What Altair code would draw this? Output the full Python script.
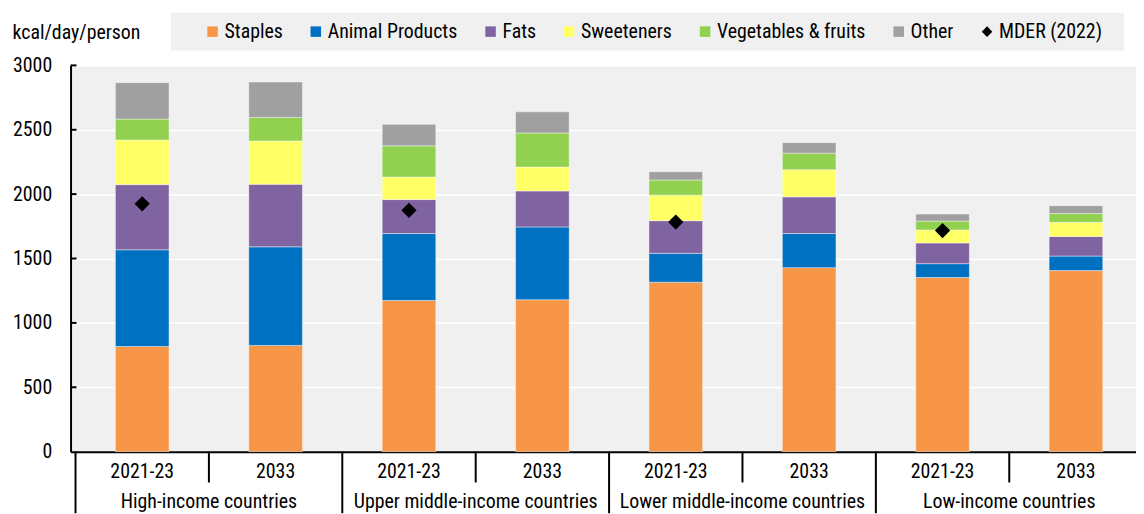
import glob
import os
import subprocess

import altair as alt
import pandas as pd

# ---- data ----
categories = ["Staples", "Animal Products", "Fats", "Sweeteners", "Vegetables & fruits", "Other"]
colors = ["#F79646", "#0070C0", "#8064A2", "#FFFF66", "#92D050", "#A0A0A0"]
periods = ["2021-23", "2033", "2021-23", "2033", "2021-23", "2033", "2021-23", "2033"]
groups = ["High-income countries", "Upper middle-income countries",
          "Lower middle-income countries", "Low-income countries"]
staples = [817, 825, 1174, 1180, 1316, 1429, 1352, 1406]
animal = [751, 766, 520, 565, 224, 265, 108, 113]
fats = [506, 486, 264, 280, 254, 285, 161, 152]
sweeteners = [347, 336, 175, 185, 198, 211, 101, 110]
vegfruit = [162, 183, 242, 265, 118, 128, 69, 69]
other = [283, 275, 167, 164, 64, 82, 54, 60]
mder = [1925, 1874, 1783, 1717]
mder_label = "MDER (2022)"
y_ticks = [0, 500, 1000, 1500, 2000, 2500, 3000]

# ---- pick a condensed font if the system has one ----
def installed_families():
    txt = ""
    try:
        txt = subprocess.run(["fc-list", ":", "family"], capture_output=True,
                             text=True, timeout=20).stdout
    except Exception:
        pass
    files = []
    for d in ["/usr/share/fonts", "/usr/local/share/fonts", os.path.expanduser("~/.fonts"),
              os.path.expanduser("~/.local/share/fonts")]:
        files += glob.glob(os.path.join(d, "**", "*"), recursive=True)
    return (txt + " " + " ".join(os.path.basename(f) for f in files)).lower()

fam = installed_families()
if "liberation sans narrow" in fam or "liberationsansnarrow" in fam:
    FONT, FS = "Liberation Sans Narrow", 21
elif "roboto condensed" in fam or "robotocondensed" in fam:
    FONT, FS = "Roboto Condensed", 20
else:
    FONT, FS = "Liberation Sans", 17.5

W, H = 1073, 389

series = [staples, animal, fats, sweeteners, vegfruit, other]
rows = []
for ci, (cat, vals) in enumerate(zip(categories, series)):
    for i, v in enumerate(vals):
        rows.append({"pos": i, "cat": cat, "order": ci, "value": v})
bars_df = pd.DataFrame(rows)
mder_df = pd.DataFrame({"pos": [0, 2, 4, 6], "value": mder, "cat": [mder_label] * 4})
period_df = pd.DataFrame({"pos": list(range(8)), "label": periods})
group_df = pd.DataFrame({"pos": [0.5, 2.5, 4.5, 6.5], "label": groups})
short_sep = pd.DataFrame({"pos": [0.5, 2.5, 4.5, 6.5]})
long_sep = pd.DataFrame({"pos": [-0.5, 1.5, 3.5, 5.5]})
tick_df = pd.DataFrame({"v": y_ticks[1:]})

legend_domain = categories + [mder_label]
legend_colors = colors + ["black"]
legend_shapes = ["square"] * len(categories) + ["diamond"]

xscale = alt.Scale(domain=[-0.5, 7.413], nice=False, zero=False)
xaxis = alt.Axis(labels=False, ticks=False, grid=False, domainColor="black",
                 domainWidth=2, title=None)
yscale = alt.Scale(domain=[0, 3000], nice=False)
yaxis = alt.Axis(values=y_ticks, format="d", grid=True, gridColor="white", gridWidth=1.5,
                 domainColor="black", domainWidth=2, ticks=False, labelPadding=19,
                 labelFontSize=FS, labelFont=FONT, labelColor="black", labelFlush=False,
                 title="kcal/day/person", titleAngle=0, titleX=-59, titleY=-33,
                 titleAlign="left", titleBaseline="middle", titleFontSize=FS,
                 titleFontWeight="normal", titleFont=FONT, titleColor="black")

legend = alt.Legend(orient="none", legendX=133, legendY=-44, direction="horizontal",
                    columns=7, title=None, symbolSize=112, symbolStrokeWidth=0,
                    labelOffset=2, labelFontSize=FS, labelFont=FONT, labelColor="black",
                    columnPadding=23, labelLimit=300)
color_scale = alt.Scale(domain=legend_domain, range=legend_colors)
shape_scale = alt.Scale(domain=legend_domain, range=legend_shapes)

def X(field="pos:Q"):
    return alt.X(field, scale=xscale, axis=xaxis)

def Y(field):
    return alt.Y(field, scale=yscale, axis=yaxis)

legend_bg = alt.Chart(alt.Data(values=[{"a": 1}])).mark_rect(color="#F0F0F0").encode(
    x=alt.value(101), x2=alt.value(1061), y=alt.value(-53), y2=alt.value(-15)
)

bars = alt.Chart(bars_df).transform_stack(
    stack="value", as_=["y0", "y1"], groupby=["pos"],
    sort=[alt.SortField("order", order="ascending")]
).mark_bar(size=54, orient="vertical", stroke="white", strokeWidth=0.6,
           strokeOpacity=0.7).encode(
    x=X(),
    y=Y("y0:Q"),
    y2="y1:Q",
    color=alt.Color("cat:N", scale=color_scale, legend=legend),
)

points = alt.Chart(mder_df).mark_point(filled=True, size=235, opacity=1).encode(
    x=X(),
    y=Y("value:Q"),
    color=alt.Color("cat:N", scale=color_scale, legend=legend),
    shape=alt.Shape("cat:N", scale=shape_scale, legend=legend),
)

yticks = alt.Chart(tick_df).mark_rule(color="black", strokeWidth=2).encode(
    y=Y("v:Q"), x=alt.value(0), x2=alt.value(6)
)

short_rules = alt.Chart(short_sep).mark_rule(color="black", strokeWidth=2).encode(
    x=X(), y=alt.value(H), y2=alt.value(H + 31)
)
long_rules = alt.Chart(long_sep).mark_rule(color="black", strokeWidth=2).encode(
    x=X(), y=alt.value(H), y2=alt.value(H + 62)
)

period_text = alt.Chart(period_df).mark_text(font=FONT, fontSize=FS, color="black",
                                             baseline="middle", align="center").encode(
    x=X(), y=alt.value(H + 21), text="label:N"
)
group_text = alt.Chart(group_df).mark_text(font=FONT, fontSize=FS, color="black",
                                           baseline="middle", align="center").encode(
    x=X(), y=alt.value(H + 51), text="label:N"
)

chart = alt.layer(
    legend_bg, bars, points, yticks, short_rules, long_rules, period_text, group_text
).properties(
    width=W, height=H,
    autosize=alt.AutoSizeParams(type="none"),
    padding={"left": 63, "top": 56, "right": 0, "bottom": 61},
).configure_view(fill="#F0F0F0", stroke="transparent")

chart.save("out.html", embed_options={"renderer": "svg", "actions": False})
